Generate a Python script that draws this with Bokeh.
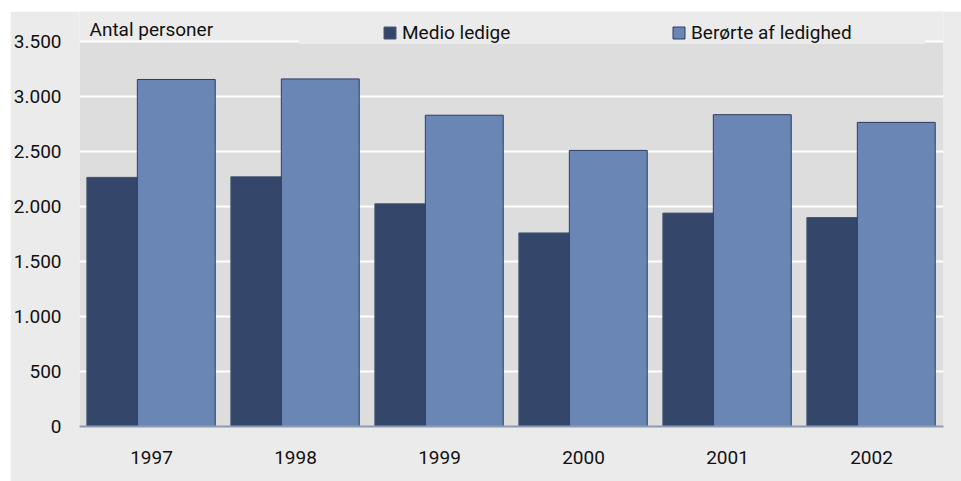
from bokeh.plotting import figure
from bokeh.models import FactorRange, Range1d, FixedTicker, Legend, LegendItem, BoxAnnotation, Label
from bokeh.transform import dodge
from bokeh.embed import file_html
from bokeh.resources import INLINE

# ---- data ----
years = ["1997", "1998", "1999", "2000", "2001", "2002"]
medio_ledige = [2265, 2270, 2025, 1760, 1940, 1900]
beroerte = [3155, 3160, 2830, 2510, 2835, 2765]
y_ticks = [0, 500, 1000, 1500, 2000, 2500, 3000, 3500]
y_tick_labels = ["0", "500", "1.000", "1.500", "2.000", "2.500", "3.000", "3.500"]
series_names = ["Medio ledige", "Berørte af ledighed"]
y_title = "Antal personer"

FONT = "Roboto"
FS = "19px"
TXT = "#111111"
OUTER = "#EBEBEB"
INNER = "#DDDDDD"
DARK = "#34476A"
LIGHT = "#6A86B5"

Y_MAX = 3500
Y_TOP = 3773  # extra room above the plot area for the label and legend

p = figure(
    x_range=FactorRange(*years, range_padding=0),
    y_range=Range1d(0, Y_TOP),
    width=951, height=470,
    output_backend="svg", toolbar_location=None,
    min_border_left=68, min_border_right=18, min_border_top=0, min_border_bottom=55,
    background_fill_color=OUTER, border_fill_color=OUTER, outline_line_color=None,
)
p.margin = (11, 0, 0, 10)
p.styles = {"vertical-align": "top"}

# inner (plot area) background up to 3.500
p.add_layout(BoxAnnotation(bottom=0, top=Y_MAX, fill_color=INNER, fill_alpha=1,
                           line_color=None, level="image"))

src = dict(year=years, medio=medio_ledige, ber=beroerte)
r1 = p.vbar(x=dodge("year", -0.273, range=p.x_range), top="medio", width=0.352, source=src,
            fill_color=DARK, line_color="#4A5672", line_width=1)
r2 = p.vbar(x=dodge("year", 0.172, range=p.x_range), top="ber", width=0.541, source=src,
            fill_color=LIGHT, line_color="#2E3D5E", line_width=1)

ticker = FixedTicker(ticks=y_ticks)
for ax in (p.xaxis[0], p.yaxis[0]):
    ax.major_tick_line_color = None
    ax.minor_tick_line_color = None
    ax.major_tick_out = 0
    ax.major_tick_in = 0
    ax.minor_tick_out = 0
    ax.minor_tick_in = 0
    ax.major_label_text_font = FONT
    ax.major_label_text_font_size = FS
    ax.major_label_text_color = TXT

p.yaxis.ticker = ticker
p.yaxis.major_label_overrides = dict(zip(y_ticks, y_tick_labels))
p.yaxis.axis_line_color = None
p.yaxis.major_label_standoff = 18

p.xaxis.axis_line_color = "#8C9BB4"
p.xaxis.axis_line_width = 2
p.xaxis.major_label_standoff = 24

p.xgrid.grid_line_color = None
p.ygrid.ticker = ticker
p.ygrid.grid_line_color = "white"
p.ygrid.grid_line_width = 2

p.add_layout(Label(x=0, y=Y_MAX, x_offset=10, y_offset=12, text=y_title,
                   text_font=FONT, text_font_size=FS, text_color=TXT,
                   text_baseline="alphabetic"))

legend = Legend(
    items=[LegendItem(label=series_names[0], renderers=[r1]),
           LegendItem(label=series_names[1], renderers=[r2])],
    orientation="horizontal",
    location=(220, 382),
    title=".", title_location="left", title_standoff=61,
    title_text_color=OUTER, title_text_font_size=FS,
    glyph_width=15, glyph_height=15, label_standoff=5,
    label_width=234, spacing=35, padding=0, margin=0,
    label_text_font=FONT, label_text_font_size=FS, label_text_color=TXT,
    background_fill_color=OUTER, background_fill_alpha=1,
    border_line_color=None,
)
p.add_layout(legend, "center")

open("out.html", "w").write(file_html(p, INLINE))
